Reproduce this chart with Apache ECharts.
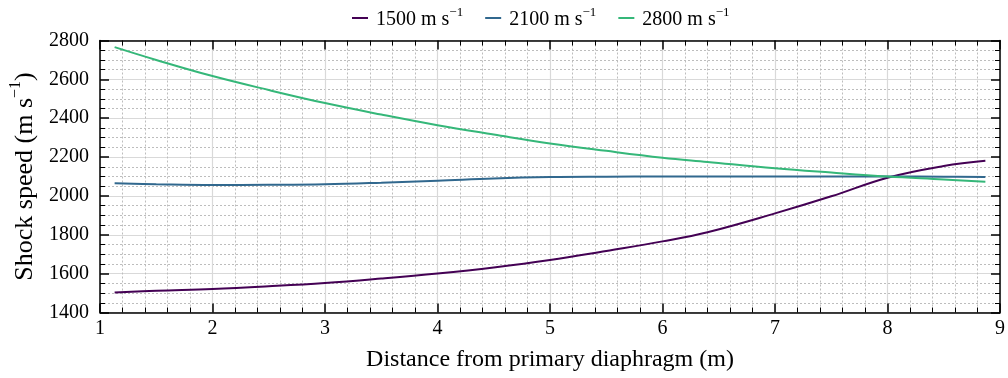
<!DOCTYPE html>
<html>
<head>
<meta charset="utf-8">
<script src="https://cdn.jsdelivr.net/npm/echarts@6/dist/echarts.min.js"></script>
<style>
  html, body { margin: 0; padding: 0; background: #fff; }
  #chart { width: 1008px; height: 378px; }
</style>
</head>
<body>
<div id="chart"></div>
<script>
// Distance along the tube (m)
const distance = [1.13, 1.5, 2, 2.5, 3, 3.5, 4, 4.5, 5, 5.5, 6, 6.4, 7, 7.5, 8, 8.5, 8.87];
// Shock speed (m/s) for each initial driver condition
const speed1500 = [1503, 1512, 1521, 1535, 1552, 1575, 1601, 1632, 1670, 1717, 1766, 1813, 1910, 1998, 2094, 2154, 2181];
const speed2100 = [2065, 2060, 2056, 2057, 2060, 2068, 2078, 2090, 2097, 2099, 2100, 2100, 2100, 2100, 2100, 2099, 2098];
const speed2800 = [2766, 2700, 2617, 2545, 2478, 2419, 2364, 2316, 2270, 2232, 2197, 2175, 2142, 2120, 2100, 2085, 2073];
const seriesNames = ['1500', '2100', '2800'];
const colors = ['#440154', '#31688e', '#35b779'];

const xTicks = { min: 1, max: 9, interval: 1 };
const yTicks = { min: 1400, max: 2800, interval: 200 };

const FONT = '"Liberation Serif", "Times New Roman", serif';

function pairs(xs, ys) { return xs.map((x, i) => [x, ys[i]]); }

const frameLine = { show: true, onZero: false, lineStyle: { color: '#000', width: 1.5 } };
const majorTick = { show: true, inside: true, length: 9, lineStyle: { color: '#000', width: 1.5 } };
const minorTickX = { show: true, splitNumber: 5, length: 5, lineStyle: { color: '#000', width: 1 } };
const minorTickY = { show: true, splitNumber: 4, length: 5, lineStyle: { color: '#000', width: 1 } };

const legendRich = {
  n: { fontFamily: FONT, fontSize: 20, color: '#000', verticalAlign: 'bottom', lineHeight: 24 },
  s: { fontFamily: FONT, fontSize: 13, color: '#000', verticalAlign: 'top', lineHeight: 24 }
};

const chart = echarts.init(document.getElementById('chart'), null, { renderer: 'canvas' });
chart.setOption({
  backgroundColor: '#fff',
  animation: false,
  color: colors,
  legend: {
    top: 6,
    left: 352,
    padding: 0,
    icon: 'rect',
    itemWidth: 16,
    itemHeight: 2,
    itemGap: 22,
    textStyle: { rich: legendRich, padding: [0, 0, 0, 3] },
    formatter: name => '{n|' + name + ' m s}{s|−1}',
    data: seriesNames
  },
  grid: { left: 97, right: 7, top: 40.5, bottom: 65.5, containLabel: false },
  xAxis: [
    {
      type: 'value', min: xTicks.min, max: xTicks.max, interval: xTicks.interval,
      position: 'bottom',
      name: 'Distance from primary diaphragm (m)',
      nameLocation: 'middle', nameGap: 35,
      nameTextStyle: { fontFamily: FONT, fontSize: 24, color: '#000' },
      axisLine: frameLine, axisTick: majorTick, minorTick: minorTickX,
      axisLabel: { fontFamily: FONT, fontSize: 20, color: '#000', margin: 6 },
      splitLine: { show: true, lineStyle: { color: '#d9d9d9', width: 1.2 } },
      minorSplitLine: { show: true, lineStyle: { color: '#bdbdbd', width: 1, type: [2, 2] } }
    },
    {
      type: 'value', min: xTicks.min, max: xTicks.max, interval: xTicks.interval,
      position: 'top',
      axisLine: frameLine, axisTick: majorTick, minorTick: minorTickX,
      axisLabel: { show: false }, splitLine: { show: false }
    }
  ],
  yAxis: [
    {
      type: 'value', min: yTicks.min, max: yTicks.max, interval: yTicks.interval,
      position: 'left',
      name: '{n|Shock speed (m s}{s|−1}{n|)}',
      nameLocation: 'middle', nameGap: 62,
      nameTextStyle: {
        rich: {
          n: { fontFamily: FONT, fontSize: 26, color: '#000', verticalAlign: 'bottom', lineHeight: 30 },
          s: { fontFamily: FONT, fontSize: 16, color: '#000', verticalAlign: 'top', lineHeight: 30 }
        }
      },
      axisLine: frameLine, axisTick: majorTick, minorTick: minorTickY,
      axisLabel: { fontFamily: FONT, fontSize: 20, color: '#000', margin: 11, formatter: v => String(v) },
      splitLine: { show: true, lineStyle: { color: '#d9d9d9', width: 1.2 } },
      minorSplitLine: { show: true, lineStyle: { color: '#bdbdbd', width: 1, type: [2, 2] } }
    },
    {
      type: 'value', min: yTicks.min, max: yTicks.max, interval: yTicks.interval,
      position: 'right',
      axisLine: frameLine, axisTick: majorTick, minorTick: minorTickY,
      axisLabel: { show: false }, splitLine: { show: false }
    }
  ],
  series: [
    { name: seriesNames[0], type: 'line', data: pairs(distance, speed1500) },
    { name: seriesNames[1], type: 'line', data: pairs(distance, speed2100) },
    { name: seriesNames[2], type: 'line', data: pairs(distance, speed2800) }
  ].map((s, i) => Object.assign(s, {
    xAxisIndex: 0, yAxisIndex: 0,
    smooth: 0.4, showSymbol: false, symbol: 'none',
    lineStyle: { color: colors[i], width: 2 },
    itemStyle: { color: colors[i] },
    z: 3
  }))
});
</script>
</body>
</html>
